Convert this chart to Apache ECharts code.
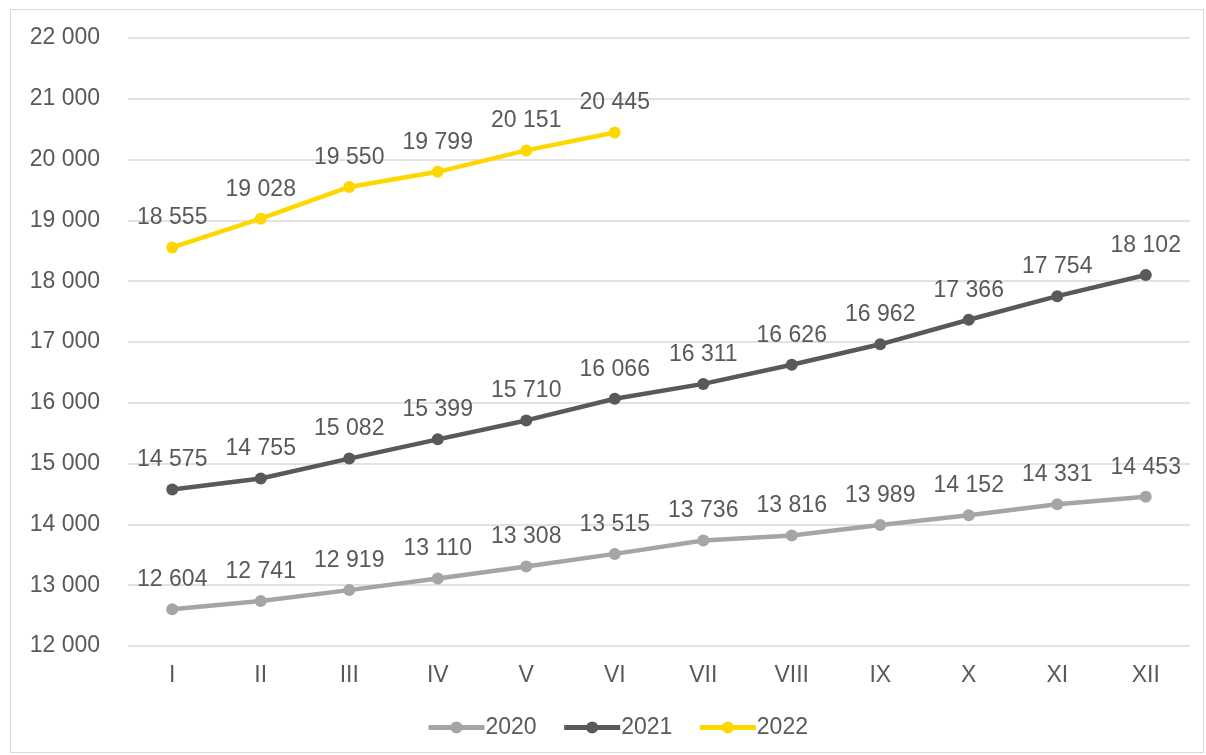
<!DOCTYPE html>
<html>
<head>
<meta charset="utf-8">
<script src="https://cdn.jsdelivr.net/npm/echarts@6/dist/echarts.min.js"></script>
<style>
  html, body { margin: 0; padding: 0; background: #fff; }
  #frame { position: absolute; left: 10px; top: 9px; width: 1194px; height: 744px; border: 1px solid #d9d9d9; box-sizing: border-box; }
  #chart { position: absolute; left: 0; top: 0; width: 1206px; height: 755px; }
</style>
</head>
<body>
<div id="frame"></div>
<div id="chart"></div>
<script>
const months = ['I', 'II', 'III', 'IV', 'V', 'VI', 'VII', 'VIII', 'IX', 'X', 'XI', 'XII'];
const seriesNames = ['2020', '2021', '2022'];
const values2020 = [12604, 12741, 12919, 13110, 13308, 13515, 13736, 13816, 13989, 14152, 14331, 14453];
const values2021 = [14575, 14755, 15082, 15399, 15710, 16066, 16311, 16626, 16962, 17366, 17754, 18102];
const values2022 = [18555, 19028, 19550, 19799, 20151, 20445];
const colors = ['#a5a5a5', '#595959', '#ffd700'];

const fmt = v => String(v).replace(/\B(?=(\d{3})+(?!\d))/g, ' ');
const textStyle = { color: '#595959', fontFamily: 'Liberation Sans, Arial, sans-serif', fontSize: 23 };

function lineSeries(name, data, color) {
  return {
    name, type: 'line', data, color,
    symbol: 'circle', symbolSize: 12,
    lineStyle: { width: 4.5, color },
    itemStyle: { color },
    label: {
      show: true, position: 'top', distance: 12,
      formatter: p => fmt(p.value),
      ...textStyle
    },
    emphasis: { disabled: true },
    animation: false
  };
}

const chart = echarts.init(document.getElementById('chart'), null, { renderer: 'canvas' });
chart.setOption({
  animation: false,
  grid: { left: 128, right: 16, top: 38, bottom: 109, containLabel: false },
  legend: {
    bottom: 11, left: 421,
    itemWidth: 56, itemHeight: 15, itemGap: 25,
    data: seriesNames,
    lineStyle: { width: 5 },
    textStyle: { ...textStyle, padding: [0, 0, 0, -4] }
  },
  xAxis: {
    type: 'category', data: months, boundaryGap: true,
    axisLine: { show: false }, axisTick: { show: false },
    axisLabel: { ...textStyle, margin: 18 }
  },
  yAxis: {
    type: 'value', min: 12000, max: 22000, interval: 1000,
    axisLine: { show: false }, axisTick: { show: false },
    axisLabel: { ...textStyle, margin: 28, formatter: v => fmt(v) },
    splitLine: { lineStyle: { color: '#d9d9d9', width: 1.5 } }
  },
  series: [
    lineSeries(seriesNames[0], values2020, colors[0]),
    lineSeries(seriesNames[1], values2021, colors[1]),
    lineSeries(seriesNames[2], values2022, colors[2])
  ]
});
</script>
</body>
</html>
